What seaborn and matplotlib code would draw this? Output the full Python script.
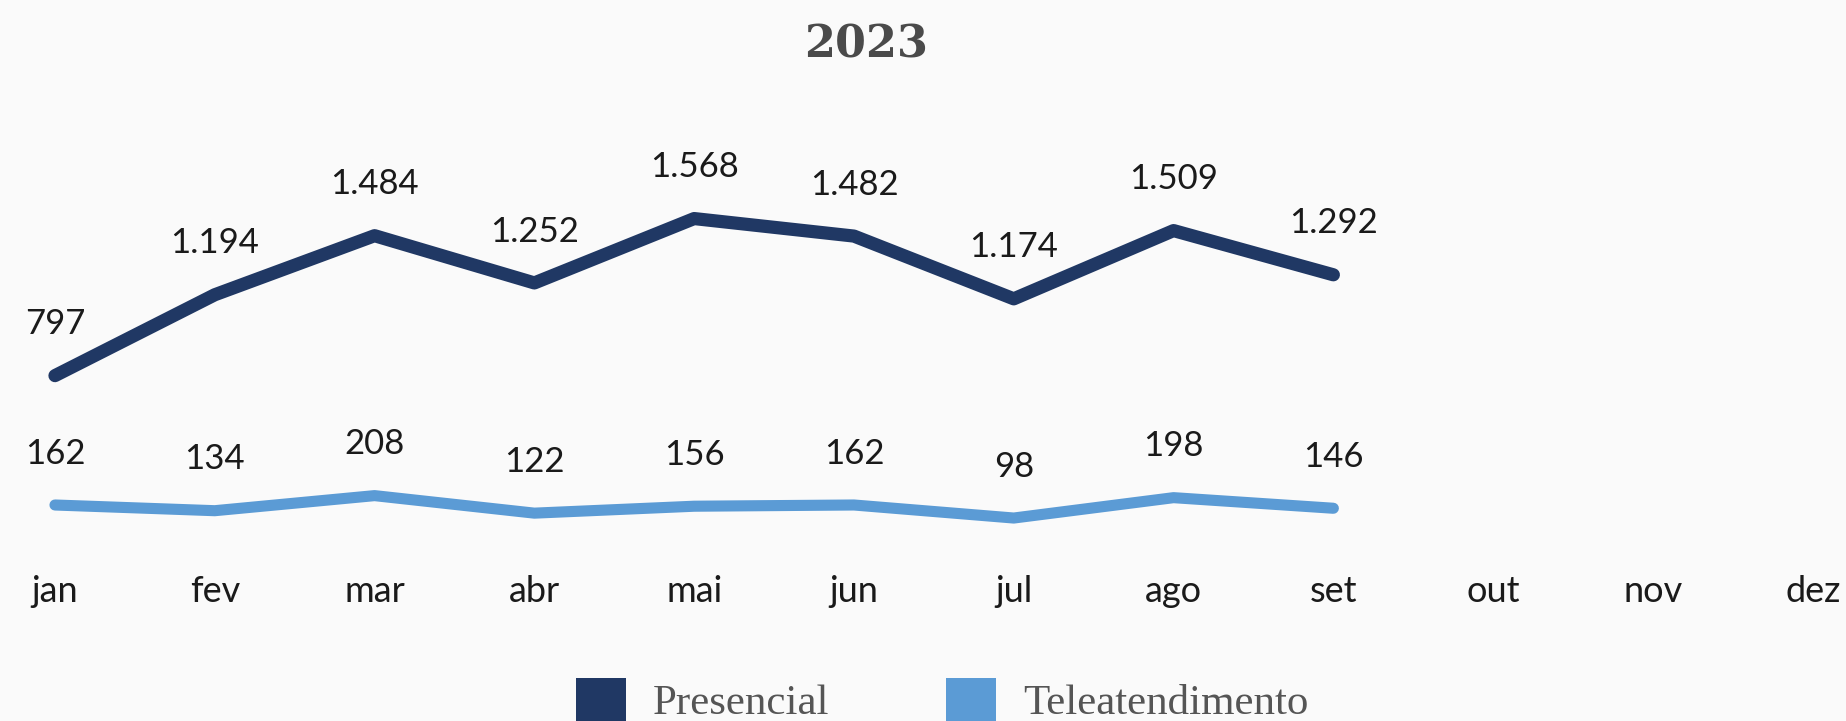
import pandas as pd
import matplotlib.pyplot as plt
import seaborn as sns
from matplotlib.patches import Patch

months = ["jan", "fev", "mar", "abr", "mai", "jun", "jul", "ago", "set", "out", "nov", "dez"]
presencial = [797, 1194, 1484, 1252, 1568, 1482, 1174, 1509, 1292]
teleatendimento = [162, 134, 208, 122, 156, 162, 98, 198, 146]

dark = "#203864"
light = "#5b9bd5"
bg = "#fafafa"

n = len(presencial)
df = pd.DataFrame({
    "mes": list(range(n)) * 2,
    "valor": presencial + teleatendimento,
    "serie": ["Presencial"] * n + ["Teleatendimento"] * n,
})

sns.set_style("white")
plt.rcParams["font.family"] = ["Lato", "DejaVu Sans"]

fig = plt.figure(figsize=(18.46, 7.21), dpi=100, facecolor=bg)
ax = fig.add_axes([0, 1 - 538 / 721, 1, 438 / 721])
ax.set_facecolor(bg)

sns.lineplot(
    data=df, x="mes", y="valor", hue="serie",
    palette={"Presencial": dark, "Teleatendimento": light},
    linewidth=9, solid_capstyle="round", legend=False, ax=ax,
)
for line, lw in zip(ax.lines, [9.5, 8]):
    line.set_linewidth(lw)

# data labels
for vals in [presencial, teleatendimento]:
    for i, v in enumerate(vals):
        txt = f"{v:,}".replace(",", ".")
        ax.annotate(txt, (i, v), xytext=(0, 37), textcoords="offset points",
                    ha="center", va="center", fontsize=25, color="#1a1a1a")

ax.set_xlim(-0.344, 11.208)
ax.set_ylim(0, 2150)
ax.set_xticks(range(12))
ax.set_xticklabels(months, fontsize=26, color="#1a1a1a")
ax.tick_params(axis="x", length=0, pad=27)
ax.set_yticks([])
ax.set_xlabel("")
ax.set_ylabel("")
sns.despine(ax=ax, left=True, bottom=True)

fig.text(866 / 1846, 1 - 45 / 721, "2023", ha="center", va="center",
         fontsize=32, fontweight="bold", family="DejaVu Serif", color="#4a4a4a")

handles = [Patch(facecolor=dark, edgecolor="none", label="Presencial"),
           Patch(facecolor=light, edgecolor="none", label="Teleatendimento")]
leg = fig.legend(handles=handles, loc="upper left", bbox_to_anchor=(576 / 1846, 1 - 678 / 721),
                 ncol=2, frameon=False, borderpad=0, borderaxespad=0,
                 handlelength=1.17, handleheight=1.17, handletextpad=0.62, columnspacing=2.7,
                 prop={"family": "Liberation Serif", "size": 31})
for t in leg.get_texts():
    t.set_color("#555555")

plt.savefig("out.png", dpi=100, facecolor=bg)
